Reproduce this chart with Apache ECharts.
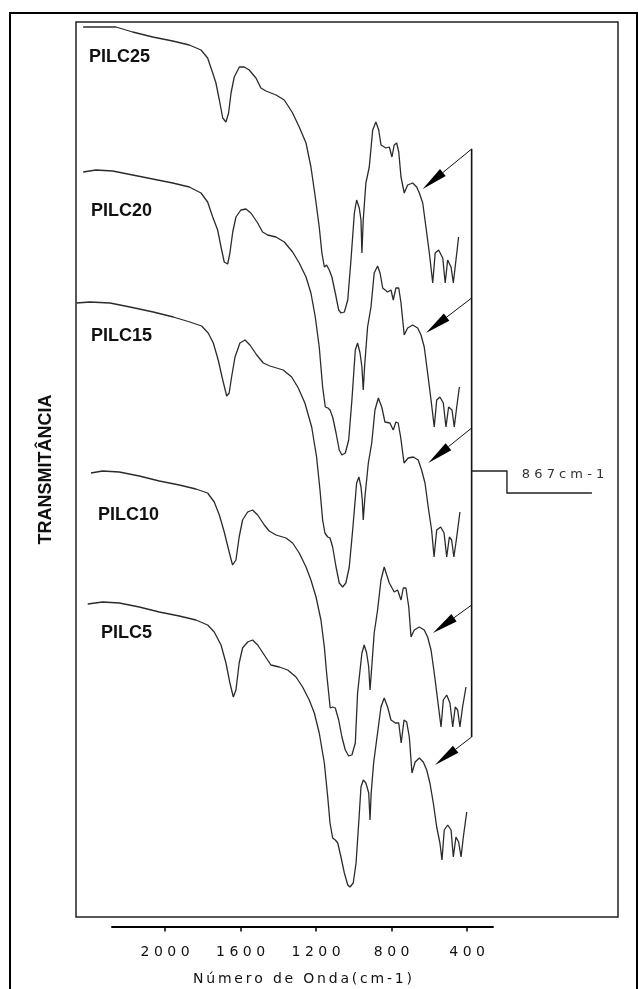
<!DOCTYPE html>
<html><head><meta charset="utf-8">
<script src="https://cdn.jsdelivr.net/npm/echarts@6/dist/echarts.min.js"></script>
<style>html,body{margin:0;padding:0;background:#fff}#c{width:638px;height:989px}</style>
</head><body><div id="c"></div>
<script>
// ---- data (wavenumber cm-1, transmittance a.u.) ----
const tickValues = [2000, 1600, 1200, 800, 400];
const xAxisTitle = 'Número de Onda(cm-1)';
const yAxisTitle = 'TRANSMITÂNCIA';
const bandLabel = '867cm-1';
const seriesNames = ['PILC25', 'PILC20', 'PILC15', 'PILC10', 'PILC5'];

const pilc25 = [[2433,890],[2365,890],[2260,890],[2171,885],[2065,880],[1959,876],[1871,872],[1809,867],[1774,859],[1747,844],[1730,834],[1712,817],[1694,799],[1677,795],[1663,804],[1650,824],[1633,840],[1606,850],[1580,850],[1554,847],[1518,839],[1492,829],[1465,826],[1412,822],[1368,817],[1324,804],[1289,790],[1253,774],[1227,750],[1204,720],[1183,690],[1169,664],[1156,650],[1144,652],[1130,647],[1116,640],[1098,624],[1080,607],[1068,604],[1050,605],[1032,617],[1015,657],[997,704],[985,717],[971,709],[962,697],[957,664],[950,697],[936,734],[918,750],[900,787],[883,795],[868,787],[856,772],[830,769],[812,770],[798,760],[786,772],[773,774],[762,765],[750,740],[733,724],[715,732],[688,734],[667,730],[653,724],[635,714],[618,690],[600,664],[582,634],[569,664],[551,667],[529,659],[516,634],[503,657],[485,650],[473,634],[459,657],[445,680]];

const pilc20 = [[2433,745],[2365,747],[2277,746],[2171,742],[2065,738],[1959,734],[1871,730],[1809,724],[1774,715],[1747,700],[1721,687],[1703,670],[1686,655],[1668,653],[1656,664],[1641,685],[1624,700],[1598,707],[1571,708],[1545,704],[1509,694],[1483,685],[1456,682],[1412,680],[1368,675],[1324,665],[1289,654],[1253,640],[1227,624],[1204,600],[1183,570],[1165,530],[1151,510],[1137,509],[1126,507],[1112,500],[1094,484],[1077,467],[1063,462],[1045,464],[1027,477],[1010,517],[992,567],[980,574],[967,564],[957,550],[950,527],[943,550],[927,590],[909,610],[892,644],[874,651],[861,644],[847,629],[821,625],[803,627],[791,617],[777,629],[762,629],[750,614],[733,582],[715,589],[688,592],[662,589],[644,582],[627,570],[609,544],[591,517],[574,490],[561,517],[544,520],[526,514],[512,490],[498,510],[480,507],[468,490],[455,510],[441,530]];

const pilc15 = [[2468,614],[2397,615],[2291,614],[2185,610],[2062,605],[1956,600],[1868,595],[1806,591],[1771,584],[1744,574],[1718,557],[1694,537],[1673,521],[1660,524],[1647,540],[1629,560],[1603,574],[1576,577],[1550,572],[1514,562],[1479,554],[1444,551],[1374,547],[1329,540],[1294,529],[1259,514],[1223,490],[1197,460],[1179,427],[1165,397],[1153,384],[1138,380],[1126,379],[1112,370],[1094,350],[1077,334],[1059,330],[1042,334],[1024,350],[1006,387],[985,434],[973,440],[962,430],[955,417],[950,397],[941,420],[923,454],[905,474],[888,507],[870,519],[852,510],[835,495],[809,494],[791,487],[777,495],[765,494],[752,480],[734,454],[712,459],[685,460],[659,457],[641,447],[623,434],[606,410],[588,387],[575,360],[561,387],[540,390],[522,384],[508,360],[494,380],[482,377],[470,360],[455,380],[438,405]];

const pilc10 = [[2392,444],[2330,446],[2242,445],[2136,441],[2030,436],[1924,432],[1836,428],[1774,424],[1739,415],[1712,402],[1686,385],[1660,365],[1642,352],[1624,357],[1607,380],[1589,397],[1562,405],[1536,407],[1509,402],[1474,392],[1448,386],[1412,382],[1359,379],[1324,374],[1289,364],[1253,350],[1227,337],[1200,320],[1174,297],[1156,270],[1144,244],[1133,224],[1125,209],[1112,210],[1098,209],[1080,197],[1063,180],[1045,167],[1027,161],[1010,162],[992,174],[980,224],[957,264],[945,272],[932,264],[921,250],[914,227],[905,250],[892,284],[874,307],[856,337],[839,350],[812,334],[786,325],[768,327],[750,317],[738,329],[724,329],[709,310],[697,280],[680,287],[653,290],[627,287],[609,280],[591,267],[574,244],[556,217],[538,190],[526,217],[508,222],[491,214],[476,190],[463,210],[450,207],[438,190],[424,210],[406,230]];

const pilc5 = [[2409,313],[2330,315],[2242,314],[2136,310],[2030,305],[1924,301],[1836,297],[1774,292],[1739,285],[1703,272],[1677,254],[1656,234],[1638,220],[1624,227],[1607,254],[1589,269],[1562,275],[1536,277],[1509,272],[1474,262],[1439,252],[1395,250],[1350,247],[1306,240],[1271,230],[1236,217],[1209,204],[1183,184],[1156,154],[1138,120],[1126,94],[1112,79],[1098,77],[1085,74],[1068,60],[1050,44],[1032,32],[1020,30],[1003,34],[988,54],[974,94],[962,130],[950,137],[936,134],[921,124],[914,97],[908,124],[895,154],[877,180],[856,210],[839,219],[821,210],[803,197],[780,194],[762,194],[749,174],[734,197],[720,195],[706,180],[692,144],[675,155],[653,159],[632,155],[614,147],[597,134],[579,114],[561,90],[544,74],[533,57],[521,87],[503,92],[485,87],[473,60],[459,80],[445,75],[432,60],[420,80],[402,105]];

const seriesData = [pilc25, pilc20, pilc15, pilc10, pilc5];

// ---- helpers ----
function spaced(s, sep) { return Array.from(s).join(sep); }

const chart = echarts.init(document.getElementById('c'), null, { renderer: 'canvas' });

const option = {
  animation: false,
  backgroundColor: '#ffffff',
  grid: [
    { left: 76, top: 22, width: 542, height: 895, show: true, borderColor: '#222', borderWidth: 1.5, backgroundColor: 'transparent' },
    { left: 112, top: 880, width: 381, height: 46.5, show: false }
  ],
  xAxis: [
    { gridIndex: 0, type: 'value', inverse: true, min: -399, max: 2471, show: false },
    { gridIndex: 1, type: 'value', inverse: true, min: 263, max: 2281,
      axisLine: { show: true, lineStyle: { color: '#000', width: 2 } },
      axisTick: { show: true, customValues: tickValues, length: 5, lineStyle: { color: '#000', width: 1.5 } },
      axisLabel: { show: true, customValues: tickValues, margin: 19, fontFamily: 'DejaVu Sans', fontSize: 14, color: '#111',
        formatter: v => spaced(String(v), ' ') },
      splitLine: { show: false },
      name: spaced(xAxisTitle, '\u2009'), nameLocation: 'middle', nameGap: 46,
      nameTextStyle: { fontFamily: 'DejaVu Sans', fontSize: 14, color: '#111' }
    }
  ],
  yAxis: [
    { gridIndex: 0, type: 'value', min: 0, max: 895, show: true,
      axisLine: { show: false }, axisTick: { show: false }, axisLabel: { show: false }, splitLine: { show: false },
      name: yAxisTitle, nameLocation: 'middle', nameRotate: 90, nameGap: 21,
      nameTextStyle: { fontFamily: 'Liberation Sans', fontWeight: 'bold', fontSize: 18, color: '#111' } },
    { gridIndex: 1, type: 'value', min: 0, max: 1, show: false }
  ],
  series: seriesData.map((d, i) => ({
    name: seriesNames[i], type: 'line', xAxisIndex: 0, yAxisIndex: 0,
    data: d, showSymbol: false, symbol: 'none', smooth: false,
    lineStyle: { color: '#2b2b2b', width: 1.3 }
  }))
};
chart.setOption(option);

// ---- annotations (in data coordinates, converted by the chart's scales) ----
function px(p) { return chart.convertToPixel({ xAxisIndex: 0, yAxisIndex: 0 }, p); }
const g = [];
// outer frame
g.push({ type: 'rect', shape: { x: 10, y: 13, width: 627, height: 1000 }, style: { fill: 'none', stroke: '#000', lineWidth: 2 }, z: 10 });
// series labels
const labelPos = [[89, 57], [91, 211], [91, 336], [98, 515], [101, 633]];
seriesNames.forEach((n, i) => {
  g.push({ type: 'text', x: labelPos[i][0], y: labelPos[i][1], z: 10,
    style: { text: n, fontFamily: 'Liberation Sans', fontWeight: 'bold', fontSize: 18, fill: '#111', verticalAlign: 'middle', align: 'left' } });
});
// bracket & arrows
const bracketTop = px([376, 768]), bracketBot = px([376, 180]);
g.push({ type: 'line', shape: { x1: bracketTop[0], y1: bracketTop[1], x2: bracketBot[0], y2: bracketBot[1] }, style: { stroke: '#111', lineWidth: 1.6 }, z: 10 });
const arrows = [
  [[376, 768], [635, 728]],
  [[376, 619], [618, 584]],
  [[376, 489], [606, 454]],
  [[376, 312], [581, 284]],
  [[376, 180], [570, 152]]
];
arrows.forEach(a => {
  const s = px(a[0]), t = px(a[1]);
  const dx = t[0] - s[0], dy = t[1] - s[1], len = Math.hypot(dx, dy);
  const ux = dx / len, uy = dy / len, L = 26, w = 4.5;
  const bx = t[0] - ux * L, by = t[1] - uy * L;
  g.push({ type: 'line', shape: { x1: s[0], y1: s[1], x2: bx, y2: by }, style: { stroke: '#111', lineWidth: 1 }, z: 10 });
  g.push({ type: 'polygon', shape: { points: [[t[0], t[1]], [bx - uy * w, by + ux * w], [bx + uy * w, by - ux * w]] }, style: { fill: '#000' }, z: 10 });
});
// label bracket
const lb = [[374, 446], [189, 446], [189, 424], [-261, 424]].map(px);
g.push({ type: 'polyline', shape: { points: lb }, style: { stroke: '#222', lineWidth: 1.4, fill: null }, z: 10 });
const lp = px([-108, 442]);
g.push({ type: 'text', x: lp[0], y: lp[1], z: 10,
  style: { text: spaced(bandLabel, ' '), fontFamily: 'DejaVu Sans', fontSize: 13, fill: '#333', align: 'center', verticalAlign: 'middle' } });

chart.setOption({ graphic: g });
</script>
</body></html>
